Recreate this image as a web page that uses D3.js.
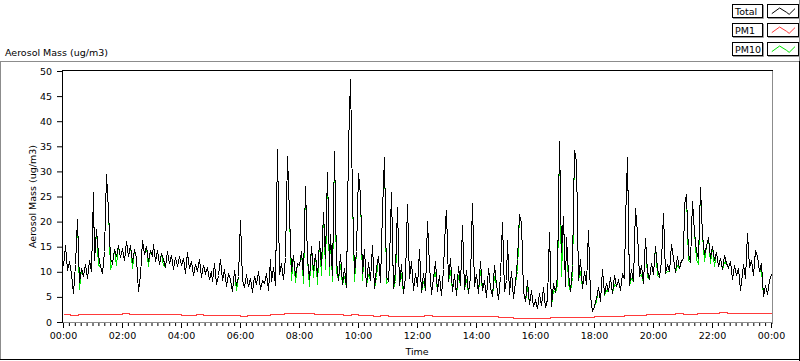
<!DOCTYPE html>
<html>
<head>
<meta charset="utf-8">
<script src="https://cdn.jsdelivr.net/npm/d3@7"></script>
<style>
  html, body { margin: 0; padding: 0; background: #fff; }
  svg { display: block; }
  text { font-family: "DejaVu Sans", sans-serif; font-size: 9.5px; fill: #000; }
</style>
</head>
<body>
<svg id="chart" width="800" height="361"></svg>
<script>
// ---- DATA ----
const seriesNames = ["Total", "PM1", "PM10"];
const xTickLabels = ["00:00","02:00","04:00","06:00","08:00","10:00","12:00","14:00","16:00","18:00","20:00","22:00","00:00"];
const yTickValues = [0, 5, 10, 15, 20, 25, 30, 35, 40, 45, 50];
const yTitle = "Aerosol Mass (ug/m3)";
const xTitle = "Time";

// Total, one value every 4 minutes (15 per hour) + final value at 24:00
const totalStepMin = 4;
const totalValues = [
  11.2, 15.3, 10.4, 12.1, 9.6, 5.8, 11.5, 20.6, 7.9, 10.8, 9.2, 11.6, 8.7, 12.3, 10.1,
  25.9, 12.4, 18.5, 13.6, 11.2, 9.8, 14.1, 29.5, 22.3, 12.7, 11.8, 14.6, 13.2, 15.4, 12.9,
  14.8, 12.3, 16.2, 13.1, 15.4, 11.9, 14.6, 12.8, 6.1, 9.4, 16.3, 13.5, 15.1, 12.2, 14.4,
  13.2, 15.6, 12.1, 14.3, 11.5, 13.8, 12.6, 10.9, 14.1, 11.8, 13.4, 10.6, 12.9, 11.2, 13.1,
  11.4, 12.8, 9.7, 13.9, 10.8, 12.2, 9.3, 11.6, 10.1, 12.5, 8.9, 11.3, 9.8, 10.9, 8.6,
  10.2, 8.1, 11.7, 7.6, 9.4, 12.6, 8.3, 10.5, 7.2, 9.8, 8.6, 6.1, 10.3, 7.4, 9.1,
  20.3, 8.4, 6.9, 9.6, 7.1, 8.8, 5.9, 9.2, 7.5, 10.1, 6.6, 8.3, 7.8, 9.7, 6.4,
  12.6, 8.2, 10.9, 7.4, 34.5, 9.6, 11.8, 8.5, 12.9, 33.0, 21.5, 10.2, 13.4, 9.1, 11.7,
  11.4, 14.2, 9.3, 27.0, 12.8, 8.6, 15.1, 10.4, 13.6, 9.1, 16.2, 11.3, 22.0, 12.7, 29.9,
  11.2, 17.6, 9.4, 34.0, 12.1, 8.3, 13.5, 7.6, 10.8, 6.9, 34.9, 48.4, 25.0, 9.7, 14.2,
  29.7, 25.3, 9.8, 14.6, 7.2, 11.9, 8.4, 15.3, 6.8, 10.7, 13.1, 7.9, 22.3, 32.9, 9.2,
  8.1, 12.4, 25.9, 6.7, 10.3, 22.9, 7.4, 11.6, 5.8, 9.2, 23.5, 8.7, 12.1, 6.3, 9.8,
  7.2, 14.6, 5.9, 9.8, 6.4, 20.1, 11.3, 5.6, 8.7, 12.2, 6.1, 9.4, 5.3, 10.6, 20.0,
  22.3, 8.1, 12.7, 6.2, 9.5, 5.4, 11.2, 7.3, 19.3, 6.6, 10.4, 5.8, 8.9, 23.7, 7.1,
  9.6, 5.7, 12.1, 6.4, 8.3, 4.9, 10.8, 6.9, 5.2, 11.4, 7.6, 4.6, 9.1, 19.9, 6.2,
  8.4, 16.3, 5.6, 10.2, 4.8, 7.9, 12.6, 21.5, 20.0, 6.1, 4.2, 8.3, 3.6, 6.4, 3.1,
  4.3, 2.7, 5.8, 3.4, 6.9, 2.9, 4.6, 17.9, 3.2, 7.8, 5.9, 9.4, 36.0, 14.0, 21.1,
  7.2, 17.0, 9.8, 6.1, 11.3, 34.3, 32.0, 8.4, 12.6, 6.7, 10.1, 7.5, 18.3, 5.4, 2.2,
  3.1, 4.8, 6.9, 4.2, 10.5, 5.6, 7.8, 6.2, 8.9, 5.8, 9.3, 7.1, 8.4, 6.3, 9.6,
  8.7, 20.1, 32.9, 7.4, 10.6, 8.2, 22.7, 18.0, 9.1, 11.4, 7.8, 16.7, 10.2, 8.6, 11.8,
  9.6, 15.1, 10.8, 8.9, 12.2, 21.7, 9.7, 11.6, 10.1, 15.5, 12.8, 9.9, 13.1, 10.7, 12.4,
  12.6, 23.5, 25.5, 13.8, 11.9, 24.1, 18.0, 14.2, 12.7, 26.9, 17.3, 13.6, 15.1, 17.0, 12.8,
  15.1, 12.3, 13.9, 11.2, 12.8, 10.6, 13.4, 11.7, 10.9, 12.2, 8.6, 11.4, 9.3, 10.8, 6.4,
  9.8, 11.6, 8.7, 17.7, 10.9, 12.3, 9.4, 14.3, 13.1, 10.2, 11.8, 5.2, 7.4, 5.6, 8.3,
  9.6
];

// PM10, same 4-minute grid; mostly coincides with Total, dips below it at times
const pm10StepMin = 4;
const pm10Values = [
  11.2, 15.3, 10.4, 12.1, 9.6, 5.8, 11.5, 20.6, 6.6, 10.8, 9.2, 11.6, 8.7, 12.3, 10.1,
  25.9, 12.4, 18.5, 11.3, 11.2, 9.8, 14.1, 29.5, 22.3, 10.6, 11.8, 14.6, 11.4, 15.4, 12.9,
  14.8, 12.3, 16.2, 13.1, 15.4, 10.8, 14.6, 12.8, 6.1, 9.4, 16.3, 13.5, 15.1, 11.1, 14.4,
  13.2, 15.6, 12.1, 14.3, 11.5, 13.8, 11.4, 10.9, 14.1, 11.8, 13.4, 10.6, 12.9, 11.2, 13.1,
  11.4, 12.8, 9.7, 13.9, 10.8, 12.2, 9.3, 11.6, 10.1, 12.5, 8.9, 11.3, 9.8, 10.9, 8.6,
  10.2, 8.1, 11.7, 7.6, 9.4, 12.6, 8.3, 10.5, 7.2, 9.8, 8.6, 6.1, 10.3, 6.3, 9.1,
  20.3, 8.4, 6.9, 9.6, 7.1, 8.8, 5.9, 9.2, 7.5, 10.1, 6.6, 8.3, 7.8, 9.7, 6.4,
  12.6, 8.2, 10.9, 7.4, 34.5, 9.6, 11.8, 8.5, 12.9, 33.0, 21.5, 8.4, 13.4, 7.9, 11.7,
  11.4, 14.2, 7.8, 27.0, 12.8, 7.1, 15.1, 8.9, 13.6, 7.6, 16.2, 9.4, 22.0, 10.6, 29.9,
  9.3, 17.6, 8.1, 34.0, 10.2, 8.3, 11.6, 7.6, 9.1, 6.9, 34.9, 48.4, 25.0, 8.2, 14.2,
  29.7, 25.3, 8.3, 14.6, 7.2, 9.6, 8.4, 15.3, 6.8, 8.9, 13.1, 7.9, 22.3, 32.9, 7.8,
  8.1, 12.4, 25.9, 6.7, 8.2, 22.9, 7.4, 9.7, 5.8, 9.2, 23.5, 8.7, 12.1, 6.3, 9.8,
  7.2, 14.6, 5.9, 8.1, 6.4, 20.1, 11.3, 5.6, 8.7, 9.9, 6.1, 9.4, 5.3, 10.6, 20.0,
  22.3, 8.1, 10.4, 6.2, 9.5, 5.4, 9.3, 7.3, 19.3, 6.6, 8.6, 5.8, 8.9, 23.7, 7.1,
  9.6, 5.7, 10.3, 6.4, 8.3, 4.9, 10.8, 6.9, 5.2, 9.1, 7.6, 4.6, 9.1, 19.9, 6.2,
  8.4, 16.3, 5.6, 10.2, 4.8, 7.9, 10.1, 21.5, 20.0, 6.1, 4.2, 6.9, 3.6, 6.4, 3.1,
  4.3, 2.7, 5.8, 3.4, 6.9, 2.9, 4.6, 17.9, 3.2, 6.3, 5.9, 7.6, 36.0, 9.2, 21.1,
  7.2, 17.0, 7.8, 6.1, 8.9, 34.3, 32.0, 8.4, 10.2, 6.7, 10.1, 7.5, 18.3, 5.4, 2.2,
  3.1, 4.1, 6.9, 4.2, 10.5, 5.6, 6.4, 6.2, 8.9, 5.8, 7.5, 7.1, 8.4, 6.3, 9.6,
  8.7, 20.1, 32.9, 7.4, 8.8, 8.2, 22.7, 18.0, 9.1, 9.6, 7.8, 16.7, 8.9, 8.6, 11.8,
  9.6, 15.1, 9.3, 8.9, 12.2, 21.7, 9.7, 10.1, 10.1, 15.5, 12.8, 9.9, 11.4, 10.7, 12.4,
  12.6, 23.5, 25.5, 12.4, 11.9, 24.1, 18.0, 12.6, 11.6, 26.9, 17.3, 12.2, 15.1, 17.0, 11.7,
  15.1, 11.1, 13.9, 11.2, 12.8, 10.6, 12.0, 11.7, 10.9, 12.2, 8.6, 11.4, 9.3, 10.8, 6.4,
  9.8, 11.6, 8.7, 17.7, 10.9, 12.3, 9.4, 14.3, 13.1, 10.2, 10.3, 5.2, 7.4, 5.6, 8.3,
  9.6
];

// PM1, one value every 15 minutes (4 per hour) + final value
const pm1StepMin = 15;
const pm1Values = [
  1.5, 1.4, 1.5, 1.5,  1.6, 1.6, 1.6, 1.6,  1.7, 1.6, 1.6, 1.6,  1.5, 1.5, 1.5, 1.5,
  1.4, 1.4, 1.5, 1.4,  1.4, 1.3, 1.4, 1.3,  1.2, 1.3, 1.3, 1.4,  1.5, 1.6, 1.7, 1.7,
  1.7, 1.7, 1.6, 1.6,  1.5, 1.5, 1.4, 1.5,  1.3, 1.3, 1.2, 1.3,  1.2, 1.2, 1.2, 1.2,
  1.2, 1.3, 1.2, 1.2,  1.2, 1.2, 1.1, 1.1,  1.1, 1.1, 1.1, 1.0,  0.9, 0.8, 0.8, 0.8,
  0.8, 0.8, 0.9, 1.0,  1.0, 1.0, 1.0, 0.9,  1.1, 1.2, 1.2, 1.2,  1.3, 1.3, 1.4, 1.5,
  1.5, 1.5, 1.6, 1.8,  1.6, 1.6, 1.7, 1.7,  1.8, 1.9, 1.8, 1.8,  1.8, 1.8, 1.8, 1.8,
  1.8
];

// ---- CHART ----
const svg = d3.select("#chart");
const plot = { left: 62, right: 772, top: 70, bottom: 323 };

const x = d3.scaleLinear().domain([0, 1440]).range([63, 771]);
const y = d3.scaleLinear().domain([0, 50]).range([322, 71]);

// outer frame (sunken look)
svg.append("line").attr("x1", 0).attr("x2", 799).attr("y1", 61.5).attr("y2", 61.5).attr("stroke", "#8c8c8c");
svg.append("line").attr("x1", 0.5).attr("x2", 0.5).attr("y1", 61).attr("y2", 360).attr("stroke", "#8c8c8c");
svg.append("line").attr("x1", 799.5).attr("x2", 799.5).attr("y1", 0).attr("y2", 61).attr("stroke", "#8c8c8c");
svg.append("line").attr("x1", 799.5).attr("x2", 799.5).attr("y1", 61).attr("y2", 361).attr("stroke", "#000");
svg.append("line").attr("x1", 0).attr("x2", 800).attr("y1", 359.5).attr("y2", 359.5).attr("stroke", "#000");

// top-left label
svg.append("text").attr("x", 5).attr("y", 56).text(yTitle);

// plot frame: right & bottom gray
svg.append("line").attr("x1", plot.right + 0.5).attr("x2", plot.right + 0.5).attr("y1", plot.top).attr("y2", plot.bottom + 1).attr("stroke", "#8c8c8c");
svg.append("line").attr("x1", plot.left).attr("x2", plot.right + 1).attr("y1", plot.bottom - 0.5).attr("y2", plot.bottom - 0.5).attr("stroke", "#8c8c8c");

// data lines
const toPoints = (vals, step) => vals.map((v, i) => [i * step, v]);
svg.append("clipPath").attr("id", "pc").append("rect")
  .attr("x", plot.left + 1).attr("y", plot.top + 1)
  .attr("width", plot.right - plot.left - 1).attr("height", plot.bottom - plot.top - 2);
const g = svg.append("g").attr("clip-path", "url(#pc)");

const line = d3.line().x(d => Math.round(x(d[0])) + 0.5).y(d => Math.round(y(d[1])) + 0.5);
const stepLine = d3.line().curve(d3.curveStepAfter).x(d => Math.round(x(d[0])) + 0.5).y(d => Math.round(y(d[1])) + 0.5);

g.append("path").datum(toPoints(pm1Values, pm1StepMin)).attr("d", stepLine)
  .attr("fill", "none").attr("stroke", "#ff3a3a").attr("stroke-width", 1).attr("shape-rendering", "crispEdges");
g.append("path").datum(toPoints(pm10Values, pm10StepMin)).attr("d", line)
  .attr("fill", "none").attr("stroke", "#00e600").attr("stroke-width", 1).attr("shape-rendering", "crispEdges");
g.append("path").datum(toPoints(totalValues, totalStepMin)).attr("d", line)
  .attr("fill", "none").attr("stroke", "#000").attr("stroke-width", 1).attr("shape-rendering", "crispEdges");

// axes
const xMajor = d3.range(0, 1441, 120);
const xMinor = d3.range(0, 1441, 12).filter(v => v % 120 !== 0);
svg.append("g").attr("transform", `translate(0,${plot.bottom})`)
  .call(d3.axisBottom(x).tickValues(xMinor).tickSize(3).tickFormat(""))
  .call(s => s.select(".domain").remove())
  .call(s => s.selectAll("line").attr("stroke", "#000"));
svg.append("g").attr("transform", `translate(0,${plot.bottom})`)
  .call(d3.axisBottom(x).tickValues(xMajor).tickSize(5).tickPadding(4).tickFormat((d, i) => xTickLabels[i]))
  .call(s => s.select(".domain").remove())
  .call(s => s.selectAll("text").attr("font-size", null).attr("font-family", null))
  .call(s => s.selectAll("line").attr("stroke", "#000"));

svg.append("g").attr("transform", `translate(${plot.left},0)`)
  .call(d3.axisLeft(y).tickValues(yTickValues).tickSize(5).tickPadding(5))
  .call(s => s.select(".domain").remove())
  .call(s => s.selectAll("text").attr("font-size", null).attr("font-family", null))
  .call(s => s.selectAll("line").attr("stroke", "#000"));

// plot frame: left & top black
svg.append("line").attr("x1", plot.left + 0.5).attr("x2", plot.left + 0.5).attr("y1", plot.top).attr("y2", plot.bottom).attr("stroke", "#000");
svg.append("line").attr("x1", plot.left).attr("x2", plot.right + 1).attr("y1", plot.top + 0.5).attr("y2", plot.top + 0.5).attr("stroke", "#000");

// axis titles
svg.append("text").attr("transform", `translate(36,${(plot.top + plot.bottom) / 2}) rotate(-90)`)
  .attr("text-anchor", "middle").text(yTitle);
svg.append("text").attr("x", (plot.left + plot.right) / 2).attr("y", 355)
  .attr("text-anchor", "middle").text(xTitle);

// legend
const legendColors = ["#000", "#ff3a3a", "#00e600"];
const legY = [4, 23, 42];
const zig = [[0.1, 0.72], [0.38, 0.25], [0.62, 0.6], [0.72, 0.78], [0.93, 0.3]];
seriesNames.forEach((name, i) => {
  const y0 = legY[i];
  const lg = svg.append("g");
  [[732, 30], [767, 31]].forEach(([bx, bw]) => {
    lg.append("rect").attr("x", bx + 0.5).attr("y", y0 + 0.5).attr("width", bw).attr("height", 13)
      .attr("fill", "#fff").attr("stroke", "#000");
    lg.append("path").attr("d", `M${bx + 1},${y0 + 14.5}H${bx + bw + 1.5}V${y0 + 1}`)
      .attr("fill", "none").attr("stroke", "#9a9a9a");
  });
  lg.append("text").attr("x", 735).attr("y", y0 + 11).text(name);
  const pts = zig.map(p => [769 + p[0] * 28, y0 + 1 + p[1] * 12]);
  lg.append("path").attr("d", d3.line()(pts)).attr("fill", "none").attr("stroke", legendColors[i]).attr("stroke-width", 1);
});
</script>
</body>
</html>
